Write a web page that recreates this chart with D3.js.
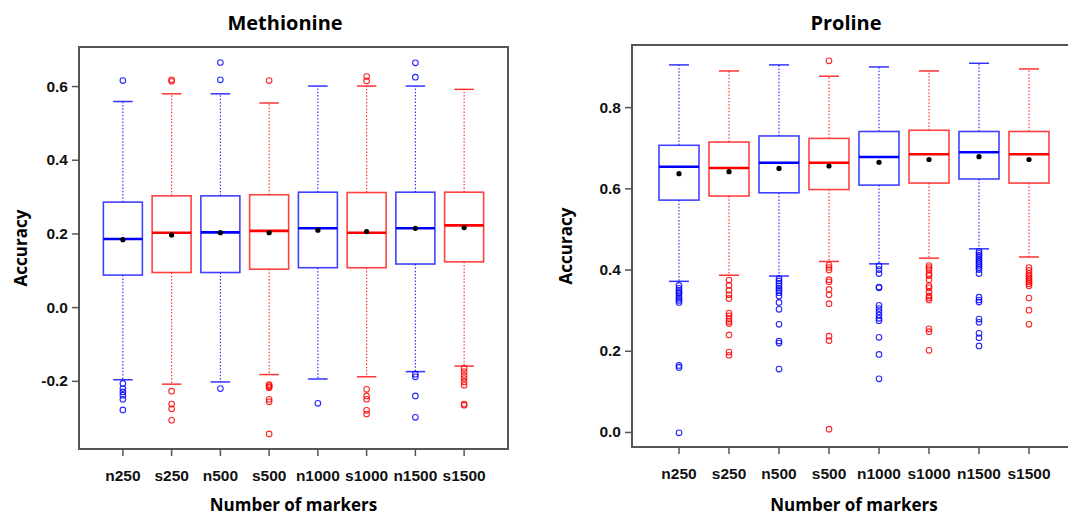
<!DOCTYPE html>
<html>
<head>
<meta charset="utf-8">
<script src="https://cdn.jsdelivr.net/npm/d3@7"></script>
<style>
  body { margin: 0; background: #fff; }
  svg { display: block; font-family: "Open Sans", "DejaVu Sans", sans-serif; }
</style>
</head>
<body>
<svg id="chart" width="1068" height="518"></svg>
<script>
// categories and colours
var categories = ["n250", "s250", "n500", "s500", "n1000", "s1000", "n1500", "s1500"];
var boxColors = ["#0000ff", "#ff0000", "#0000ff", "#ff0000", "#0000ff", "#ff0000", "#0000ff", "#ff0000"];

// Methionine: lower whisker, q1, median, q3, upper whisker, mean
var methLow    = [-0.197, -0.209, -0.203, -0.183, -0.195, -0.189, -0.175, -0.160];
var methQ1     = [0.087, 0.094, 0.094, 0.103, 0.107, 0.107, 0.117, 0.123];
var methMedian = [0.185, 0.202, 0.203, 0.207, 0.214, 0.202, 0.214, 0.222];
var methQ3     = [0.285, 0.302, 0.302, 0.305, 0.312, 0.311, 0.312, 0.312];
var methHigh   = [0.558, 0.579, 0.579, 0.554, 0.600, 0.600, 0.600, 0.591];
var methMean   = [0.183, 0.196, 0.202, 0.202, 0.209, 0.205, 0.214, 0.216];
var methOutliers = [
  [0.615, -0.207, -0.221, -0.230, -0.239, -0.250, -0.279],
  [0.617, 0.613, -0.228, -0.263, -0.276, -0.307],
  [0.664, 0.617, -0.221],
  [0.615, -0.210, -0.213, -0.216, -0.219, -0.250, -0.257, -0.344],
  [-0.261],
  [0.626, 0.614, -0.223, -0.241, -0.250, -0.280, -0.290],
  [0.663, 0.624, -0.182, -0.189, -0.241, -0.299],
  [-0.166, -0.175, -0.185, -0.194, -0.203, -0.212, -0.263, -0.266]
];

// Proline
var proLow    = [0.371, 0.386, 0.384, 0.420, 0.414, 0.428, 0.451, 0.431];
var proQ1     = [0.571, 0.581, 0.589, 0.597, 0.608, 0.613, 0.623, 0.613];
var proMedian = [0.653, 0.650, 0.663, 0.663, 0.677, 0.684, 0.689, 0.684];
var proQ3     = [0.706, 0.714, 0.729, 0.723, 0.740, 0.743, 0.740, 0.740];
var proHigh   = [0.904, 0.889, 0.904, 0.876, 0.899, 0.889, 0.908, 0.894];
var proMean   = [0.636, 0.641, 0.649, 0.655, 0.664, 0.671, 0.678, 0.671];
var proOutliers = [
  [0.361, 0.354, 0.349, 0.344, 0.341, 0.334, 0.329, 0.324, 0.319, 0.164, 0.159, -0.002],
  [0.374, 0.361, 0.349, 0.338, 0.329, 0.293, 0.286, 0.278, 0.272, 0.267, 0.239, 0.197, 0.189],
  [0.378, 0.372, 0.366, 0.360, 0.354, 0.349, 0.343, 0.335, 0.319, 0.302, 0.265, 0.224, 0.219, 0.155],
  [0.914, 0.411, 0.405, 0.399, 0.375, 0.370, 0.351, 0.338, 0.316, 0.236, 0.225, 0.007],
  [0.409, 0.400, 0.390, 0.357, 0.355, 0.312, 0.304, 0.296, 0.288, 0.280, 0.274, 0.233, 0.191, 0.131],
  [0.410, 0.405, 0.400, 0.390, 0.385, 0.375, 0.360, 0.355, 0.345, 0.335, 0.330, 0.325, 0.254, 0.247, 0.201],
  [0.445, 0.440, 0.435, 0.430, 0.425, 0.420, 0.415, 0.410, 0.405, 0.400, 0.390, 0.332, 0.325, 0.320, 0.278, 0.270, 0.243, 0.232, 0.212],
  [0.405, 0.398, 0.390, 0.385, 0.380, 0.375, 0.370, 0.365, 0.360, 0.330, 0.300, 0.265]
];

var methTicks = [-0.2, 0.0, 0.2, 0.4, 0.6];
var proTicks = [0.0, 0.2, 0.4, 0.6, 0.8];

var svg = d3.select("#chart");

function drawPanel(opt) {
  var g = svg.append("g");
  var x = d3.scaleBand().domain(categories).range([opt.left, opt.right]).paddingOuter(opt.outer).paddingInner(0);
  var y = d3.scaleLinear().domain(opt.domain).range([opt.bottom, opt.top]);
  var bw = x.bandwidth() * 0.8;
  var cx = function (c) { return x(c) + x.bandwidth() / 2; };

  // title
  g.append("text").attr("x", opt.titleX).attr("y", 30)
    .attr("text-anchor", "middle").style("font-size", "20px").style("font-weight", 700)
    .text(opt.title);

  // frame
  g.append("rect").attr("x", opt.left).attr("y", opt.top)
    .attr("width", opt.right - opt.left).attr("height", opt.bottom - opt.top)
    .attr("fill", "none").attr("stroke", "#555").attr("stroke-width", 2);

  // y axis
  var yAxis = d3.axisLeft(y).tickValues(opt.ticks).tickSize(7).tickPadding(4);
  var ya = g.append("g").attr("transform", "translate(" + opt.left + ",0)").call(yAxis);
  ya.select(".domain").remove();
  ya.selectAll(".tick line").attr("stroke", "#555").attr("stroke-width", 1.5);
  ya.selectAll(".tick text").style("font-size", "15.5px").style("font-weight", 700).attr("fill", "#111")
    .text(function (d) { return d3.format(".1f")(d).replace("−", "-"); });

  // x axis
  var xAxis = d3.axisBottom(x).tickSize(7).tickPadding(14);
  var xa = g.append("g").attr("transform", "translate(0," + opt.bottom + ")").call(xAxis);
  xa.select(".domain").remove();
  xa.selectAll(".tick line").attr("stroke", "#555").attr("stroke-width", 1.5);
  xa.selectAll(".tick text").style("font-size", "15.5px").style("font-weight", 700).attr("fill", "#111");

  // axis titles
  g.append("text").attr("x", (opt.left + opt.xTitleRight) / 2).attr("y", 511)
    .attr("text-anchor", "middle").style("font-size", "17px").style("font-weight", 700)
    .text("Number of markers");
  g.append("text").attr("transform", "translate(" + opt.yTitleX + "," + ((opt.top + opt.bottom) / 2) + ") rotate(-90)")
    .attr("text-anchor", "middle").style("font-size", "17px").style("font-weight", 700)
    .text("Accuracy");

  var s = opt.stats;
  categories.forEach(function (c, i) {
    var col = boxColors[i];
    var xc = cx(c);
    var bx = g.append("g");
    // whiskers (dotted)
    bx.append("line").attr("x1", xc).attr("x2", xc).attr("y1", y(s.q3[i])).attr("y2", y(s.high[i]))
      .attr("stroke", col).attr("stroke-width", 1.1).attr("stroke-dasharray", "1.5,1.8").attr("opacity", 0.85);
    bx.append("line").attr("x1", xc).attr("x2", xc).attr("y1", y(s.q1[i])).attr("y2", y(s.low[i]))
      .attr("stroke", col).attr("stroke-width", 1.1).attr("stroke-dasharray", "1.5,1.8").attr("opacity", 0.85);
    // caps
    [s.high[i], s.low[i]].forEach(function (v) {
      bx.append("line").attr("x1", xc - bw / 4).attr("x2", xc + bw / 4).attr("y1", y(v)).attr("y2", y(v))
        .attr("stroke", col).attr("stroke-width", 1.5).attr("opacity", 0.8);
    });
    // box
    bx.append("rect").attr("x", xc - bw / 2).attr("width", bw)
      .attr("y", y(s.q3[i])).attr("height", y(s.q1[i]) - y(s.q3[i]))
      .attr("fill", "#fff").attr("stroke", col).attr("stroke-width", 1.6).attr("stroke-opacity", 0.75);
    // median
    bx.append("line").attr("x1", xc - bw / 2).attr("x2", xc + bw / 2)
      .attr("y1", y(s.median[i])).attr("y2", y(s.median[i]))
      .attr("stroke", col).attr("stroke-width", 2.6);
    // outliers
    bx.selectAll("circle.out").data(s.outliers[i]).enter().append("circle")
      .attr("class", "out").attr("cx", xc).attr("cy", function (d) { return y(d); })
      .attr("r", 2.8).attr("fill", "none").attr("stroke", col).attr("stroke-width", 1.1).attr("opacity", 0.85);
    // mean
    bx.append("circle").attr("cx", xc).attr("cy", y(s.mean[i])).attr("r", 2.6).attr("fill", "#000");
  });
}

drawPanel({
  title: "Methionine", titleX: 285,
  left: 79, right: 508, top: 47, bottom: 449, outer: 0.4,
  domain: [-0.385, 0.706], ticks: methTicks, yTitleX: 27, xTitleRight: 508,
  stats: { low: methLow, q1: methQ1, median: methMedian, q3: methQ3, high: methHigh, mean: methMean, outliers: methOutliers }
});

drawPanel({
  title: "Proline", titleX: 846,
  left: 632, right: 1076, top: 45, bottom: 447, outer: 0.44,
  domain: [-0.037, 0.953], ticks: proTicks, yTitleX: 572, xTitleRight: 1076,
  stats: { low: proLow, q1: proQ1, median: proMedian, q3: proQ3, high: proHigh, mean: proMean, outliers: proOutliers }
});
</script>
</body>
</html>
